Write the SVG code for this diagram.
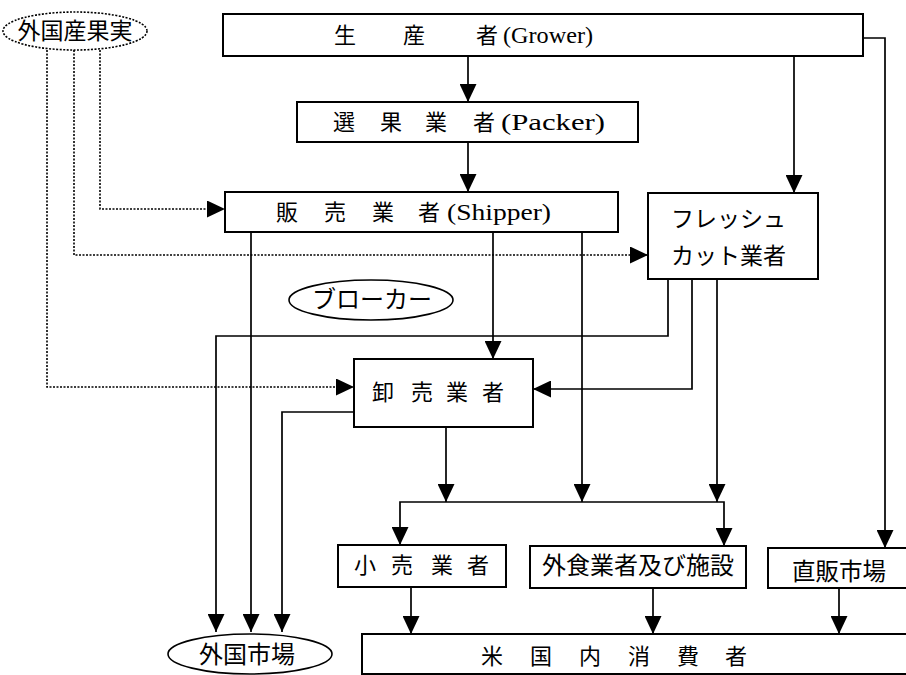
<svg xmlns="http://www.w3.org/2000/svg" width="906" height="675" viewBox="0 0 906 675">
<defs>
<marker id="ah" markerUnits="userSpaceOnUse" markerWidth="18" markerHeight="17" refX="18" refY="8.5" orient="auto" viewBox="0 0 18 17">
<path d="M0,0 L18,8.5 L0,17 z" fill="#000"/>
</marker>
</defs>
<style>
.box{fill:#fff;stroke:#000;stroke-width:2}
.ell{fill:#fff;stroke:#000;stroke-width:1.6}
.dell{fill:#fff;stroke:#000;stroke-width:1.6;stroke-dasharray:2 1.5}
.c{fill:none;stroke:#000;stroke-width:1.7;marker-end:url(#ah)}
.d{fill:none;stroke:#000;stroke-width:1.6;stroke-dasharray:2 1.5;marker-end:url(#ah)}
.j{font-family:"Noto Sans CJK JP","Noto Sans",sans-serif;font-size:22px;fill:#000}
.l{font-family:"Liberation Serif",serif;font-size:24px;fill:#000}
</style>
<rect width="906" height="675" fill="#fff"/>
<g id="connectors">
<path class="c" d="M468,56 V102"/>
<path class="c" d="M468,142 V192"/>
<path class="c" d="M794,56 V193"/>
<path class="c" d="M863,38 H885 V548"/>
<path class="c" d="M251,232 V632"/>
<path class="c" d="M493,232 V359"/>
<path class="c" d="M582,232 V502"/>
<path class="c" d="M668,279 V336 H216 V632"/>
<path class="c" d="M692,279 V389 H533"/>
<path class="c" d="M717,279 V502"/>
<path class="c" d="M354,412 H282 V632"/>
<path class="c" d="M446,427 V502"/>
<path class="c" d="M562,502 H400 V545"/>
<path class="c" d="M562,502 H724 V546"/>
<path class="c" d="M411,587 V634"/>
<path class="c" d="M653,588 V634"/>
<path class="c" d="M839,588 V634"/>
<path class="d" d="M100,50 V209 H225"/>
<path class="d" d="M74,50 V255 H648"/>
<path class="d" d="M47,50 V387 H354"/>
</g>
<g id="foreign-fruit">
<ellipse class="dell" cx="75" cy="31" rx="72" ry="19"/>
<text class="j" x="75" y="39" text-anchor="middle" style="font-size:23px">外国産果実</text>
</g>
<g id="grower">
<rect class="box" x="223" y="14" width="640" height="42"/>
<text class="j" y="43"><tspan x="334">生 </tspan><tspan x="403">産 </tspan><tspan x="476">者 </tspan><tspan class="l" x="503" textLength="90" lengthAdjust="spacingAndGlyphs">(Grower)</tspan></text>
</g>
<g id="packer">
<rect class="box" x="297" y="102" width="341" height="40"/>
<text class="j" y="130"><tspan x="333">選 </tspan><tspan x="380">果 </tspan><tspan x="425">業 </tspan><tspan x="473">者 </tspan><tspan class="l" x="501" textLength="104" lengthAdjust="spacingAndGlyphs">(Packer)</tspan></text>
</g>
<g id="shipper">
<rect class="box" x="225" y="192" width="393" height="40"/>
<text class="j" y="220"><tspan x="276">販 </tspan><tspan x="324">売 </tspan><tspan x="372">業 </tspan><tspan x="418">者 </tspan><tspan class="l" x="447" textLength="104" lengthAdjust="spacingAndGlyphs">(Shipper)</tspan></text>
</g>
<g id="freshcut">
<rect class="box" x="648" y="193" width="170" height="86"/>
<text class="j" x="671" y="227" style="font-size:23px">フレッシュ</text>
<text class="j" x="671" y="264" style="font-size:23px">カット業者</text>
</g>
<g id="broker">
<ellipse class="ell" cx="371" cy="300" rx="82" ry="20"/>
<text class="j" x="372" y="308" text-anchor="middle" style="font-size:24px">ブローカー</text>
</g>
<g id="wholesaler">
<rect class="box" x="354" y="359" width="179" height="68"/>
<text class="j" y="400"><tspan x="372">卸 </tspan><tspan x="411">売 </tspan><tspan x="446">業 </tspan><tspan x="482">者</tspan></text>
</g>
<g id="retailer">
<rect class="box" x="338" y="545" width="168" height="42"/>
<text class="j" y="573"><tspan x="354">小 </tspan><tspan x="391">売 </tspan><tspan x="431">業 </tspan><tspan x="467">者</tspan></text>
</g>
<g id="foodservice">
<rect class="box" x="530" y="546" width="216" height="42"/>
<text class="j" x="638" y="574" text-anchor="middle" style="font-size:24px">外食業者及び施設</text>
</g>
<g id="direct-market">
<rect class="box" x="768" y="548" width="142" height="40"/>
<text class="j" x="792" y="580" style="font-size:23.5px">直販市場</text>
</g>
<g id="foreign-market">
<ellipse class="ell" cx="250" cy="654" rx="82" ry="20"/>
<text class="j" x="247" y="663" text-anchor="middle" style="font-size:24px">外国市場</text>
</g>
<g id="us-consumers">
<rect class="box" x="362" y="634" width="548" height="40"/>
<text class="j" y="664"><tspan x="481">米 </tspan><tspan x="530">国 </tspan><tspan x="579">内 </tspan><tspan x="628">消 </tspan><tspan x="677">費 </tspan><tspan x="725">者</tspan></text>
</g>
</svg>
